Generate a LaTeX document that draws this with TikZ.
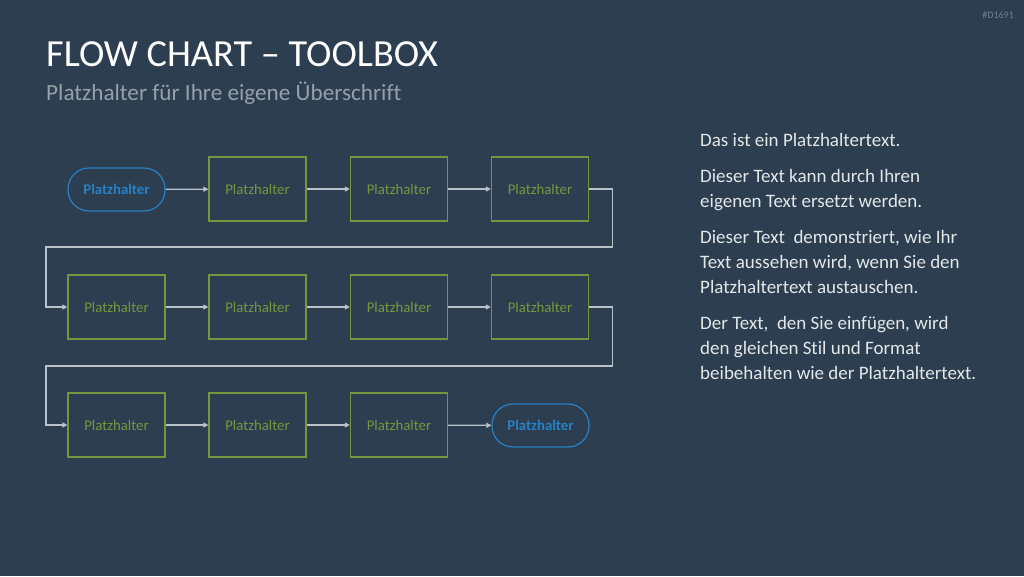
\documentclass[tikz,border=0pt]{standalone}
\usepackage{fontspec}
\setmainfont{Carlito}[Ligatures={NoCommon}]
\usetikzlibrary{arrows.meta}
\definecolor{bg}{RGB}{44,62,80}
\definecolor{boxgreen}{RGB}{118,150,62}
\definecolor{termblue}{RGB}{41,128,195}
\definecolor{conn}{RGB}{185,193,202}
\definecolor{subgray}{RGB}{150,160,170}
\definecolor{bodytext}{RGB}{228,231,234}
\tikzset{
  procbox/.style={draw=boxgreen, line width=1.2pt, minimum width=97pt, minimum height=64pt, inner sep=0pt, text=boxgreen, font=\fontsize{14.8}{16}\selectfont},
  termbox/.style={draw=termblue, line width=1.2pt, rounded corners=21pt, minimum width=97pt, minimum height=43pt, inner sep=0pt, text=termblue, font=\fontsize{14.8}{16}\selectfont\bfseries},
  flow/.style={draw=conn, line width=1.2pt, -{Triangle[length=5pt,width=5pt]}},
  line/.style={anchor=base west, text=bodytext, font=\fontsize{19}{25}\selectfont, inner sep=0pt}
}
\begin{document}
\begin{tikzpicture}[x=1pt,y=-1pt]
\fill[bg] (0,0) rectangle (1024,576);
\useasboundingbox (0,0) rectangle (1024,576);
\node[anchor=base west, inner sep=0pt, text=white, font=\fontsize{38.3}{42}\selectfont] (title) at (46,66) {FLOW CHART – TOOLBOX};
\node[anchor=base west, inner sep=0pt, text=subgray, font=\fontsize{23.2}{26}\selectfont] (sub) at (46,100) {Platzhalter für Ihre eigene Überschrift};
\node[anchor=base east, inner sep=0pt, text=subgray!65!bg, font=\fontsize{10}{11}\selectfont] (code) at (1014,18) {\#D1691};
% row 1
\node[termbox] (a1) at (116.5,189.5) {Platzhalter};
\node[procbox] (a2) at (257.5,189) {Platzhalter};
\node[procbox] (a3) at (399,189) {Platzhalter};
\node[procbox] (a4) at (540,189) {Platzhalter};
% row 2
\node[procbox] (b1) at (116.5,307) {Platzhalter};
\node[procbox] (b2) at (257.5,307) {Platzhalter};
\node[procbox] (b3) at (399,307) {Platzhalter};
\node[procbox] (b4) at (540,307) {Platzhalter};
% row 3
\node[procbox] (c1) at (116.5,425) {Platzhalter};
\node[procbox] (c2) at (257.5,425) {Platzhalter};
\node[procbox] (c3) at (399,425) {Platzhalter};
\node[termbox] (c4) at (540.5,425.5) {Platzhalter};
% connectors
\draw[flow] (a1) -- (a2);
\draw[flow] (a2) -- (a3);
\draw[flow] (a3) -- (a4);
\draw[flow] (a4.east) -- ++(23,0) |- (46,247) |- (b1.west);
\draw[flow] (b1) -- (b2);
\draw[flow] (b2) -- (b3);
\draw[flow] (b3) -- (b4);
\draw[flow] (b4.east) -- ++(23,0) |- (46,366) |- (c1.west);
\draw[flow] (c1) -- (c2);
\draw[flow] (c2) -- (c3);
\draw[flow] (c3) -- (c4);
% right text
\node[line] (l1) at (700,146) {Das ist ein Platzhaltertext.};
\node[line] (l2) at (700,182) {Dieser Text kann durch Ihren};
\node[line] (l3) at (700,207) {eigenen Text ersetzt werden.};
\node[line] (l4) at (700,243) {Dieser Text\ \ demonstriert, wie Ihr};
\node[line] (l5) at (700,268) {Text aussehen wird, wenn Sie den};
\node[line] (l6) at (700,293) {Platzhaltertext austauschen.};
\node[line] (l7) at (700,329) {Der Text,\ \ den Sie einfügen, wird};
\node[line] (l8) at (700,354) {den gleichen Stil und Format};
\node[line] (l9) at (700,379) {beibehalten wie der Platzhaltertext.};
\end{tikzpicture}
\end{document}
